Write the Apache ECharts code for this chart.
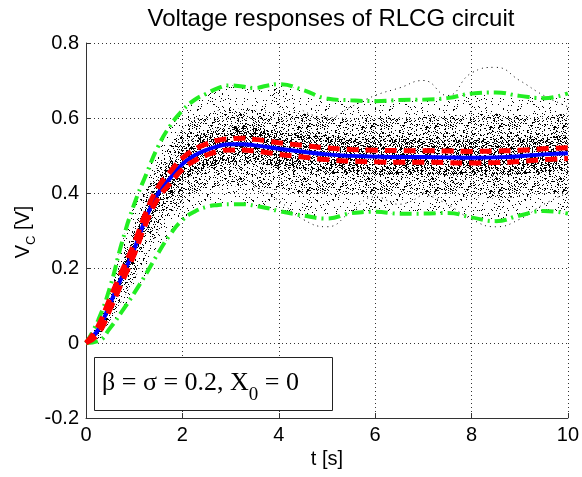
<!DOCTYPE html>
<html><head><meta charset="utf-8">
<script src="https://cdn.jsdelivr.net/npm/echarts@6/dist/echarts.min.js"></script>
<style>html,body{margin:0;padding:0;background:#fff}#c{width:582px;height:477px}</style>
</head><body><div id="c"></div>
<script>
// time grid (s)
const T      = [0, 0.25, 0.5, 0.75, 1, 1.25, 1.5, 1.75, 2, 2.25, 2.5, 2.75, 3, 3.25, 3.5, 3.75, 4, 4.5, 5, 5.5, 6, 6.5, 7, 7.5, 8, 8.5, 9, 9.5, 10];
// mean response (blue)
const meanV  = [0, 0.035, 0.105, 0.178, 0.25, 0.335, 0.4, 0.44, 0.477, 0.5, 0.515, 0.525, 0.53, 0.53, 0.527, 0.523, 0.518, 0.51, 0.503, 0.499, 0.497, 0.496, 0.496, 0.495, 0.494, 0.495, 0.498, 0.503, 0.506];
// red dashed pair
const redUp  = [0, 0.045, 0.12, 0.193, 0.266, 0.35, 0.416, 0.457, 0.493, 0.516, 0.531, 0.541, 0.545, 0.546, 0.543, 0.539, 0.534, 0.527, 0.52, 0.516, 0.514, 0.513, 0.513, 0.512, 0.511, 0.512, 0.514, 0.518, 0.521];
const redLo  = [0, 0.024, 0.09, 0.163, 0.236, 0.321, 0.386, 0.426, 0.463, 0.486, 0.501, 0.511, 0.515, 0.515, 0.512, 0.508, 0.503, 0.496, 0.489, 0.485, 0.483, 0.482, 0.482, 0.481, 0.48, 0.481, 0.484, 0.489, 0.492];
// green dash-dot bounds
const greenUp = [0, 0.06, 0.15, 0.27, 0.37, 0.45, 0.525, 0.58, 0.62, 0.648, 0.665, 0.68, 0.687, 0.684, 0.68, 0.686, 0.69, 0.675, 0.652, 0.647, 0.645, 0.648, 0.649, 0.653, 0.665, 0.668, 0.659, 0.653, 0.666];
const greenLo = [0, 0.005, 0.04, 0.085, 0.133, 0.185, 0.24, 0.29, 0.328, 0.35, 0.363, 0.368, 0.37, 0.37, 0.366, 0.36, 0.352, 0.34, 0.332, 0.346, 0.35, 0.345, 0.345, 0.347, 0.335, 0.325, 0.34, 0.352, 0.345];
// sample-path cloud: medium and dense zones
const cloudMidUp = [0, 0.045, 0.13, 0.228, 0.315, 0.405, 0.475, 0.53, 0.57, 0.595, 0.61, 0.62, 0.625, 0.625, 0.622, 0.62, 0.618, 0.612, 0.603, 0.6, 0.6, 0.602, 0.603, 0.605, 0.61, 0.612, 0.608, 0.605, 0.612];
const cloudMidLo = [0, 0.012, 0.06, 0.115, 0.17, 0.235, 0.3, 0.345, 0.38, 0.4, 0.41, 0.415, 0.418, 0.418, 0.415, 0.412, 0.408, 0.398, 0.392, 0.395, 0.398, 0.395, 0.394, 0.394, 0.39, 0.385, 0.39, 0.398, 0.4];
const cloudCoreUp = [0, 0.04, 0.115, 0.198, 0.28, 0.37, 0.44, 0.49, 0.525, 0.548, 0.563, 0.573, 0.578, 0.578, 0.575, 0.571, 0.566, 0.558, 0.551, 0.547, 0.545, 0.544, 0.544, 0.543, 0.542, 0.543, 0.546, 0.551, 0.554];
const cloudCoreLo = [0, 0.024, 0.088, 0.157, 0.22, 0.3, 0.36, 0.39, 0.43, 0.452, 0.467, 0.477, 0.482, 0.482, 0.479, 0.475, 0.47, 0.462, 0.455, 0.451, 0.449, 0.448, 0.448, 0.447, 0.446, 0.447, 0.45, 0.455, 0.458];
// a few visible outlying sample paths
const pathAT = [4.5, 5, 5.5, 6, 6.5, 7, 7.5, 8, 8.5, 9, 9.5, 10];
const pathAV = [0.62, 0.6, 0.63, 0.66, 0.68, 0.70, 0.66, 0.72, 0.735, 0.70, 0.66, 0.63];
const pathBT = [3.5, 4, 4.5, 5, 5.5, 6, 6.5, 7];
const pathBV = [0.42, 0.38, 0.33, 0.31, 0.35, 0.39, 0.37, 0.40];
const pathCT = [7, 7.5, 8, 8.5, 9, 9.5, 10];
const pathCV = [0.40, 0.37, 0.33, 0.31, 0.33, 0.37, 0.40];
// ticks
const xTicks = [0, 2, 4, 6, 8, 10];
const yTicks = [-0.2, 0, 0.2, 0.4, 0.6, 0.8];
const yTickLabels = ['-0.2', '0', '0.2', '0.4', '0.6', '0.8'];

function tile(seed, pct, size) {
  const c = document.createElement('canvas');
  c.width = c.height = size;
  const ctx = c.getContext('2d');
  ctx.fillStyle = '#000';
  for (let y = 0; y < size; y++) for (let x = 0; x < size; x++) {
    let h = Math.imul(x + seed * 131, 73856093) ^ Math.imul(y + seed * 71, 19349663);
    h = Math.imul(h ^ (h >>> 13), 1274126177); h ^= h >>> 16;
    if (((h >>> 0) % 1000) < pct * 10) ctx.fillRect(x, y, 1, 1);
  }
  return c;
}
const pat1 = tile(1, 6, 64), pat2 = tile(2, 14, 64), pat3 = tile(3, 24, 64);

function band(upper, lower, pat, z) {
  return {
    type: 'custom', silent: true, z: z, data: [0], clip: true,
    renderItem(params, api) {
      const pts = [];
      for (let i = 0; i < T.length; i++) pts.push(api.coord([T[i], upper[i]]));
      for (let i = T.length - 1; i >= 0; i--) pts.push(api.coord([T[i], lower[i]]));
      return { type: 'polygon', shape: { points: pts }, style: { fill: { image: pat, repeat: 'repeat' } } };
    }
  };
}
function pairs(ts, vs) { return ts.map((t, i) => [t, vs[i]]); }
function line(data, color, width, type, z, smooth) {
  return { type: 'line', data: data, showSymbol: false, silent: true, z: z, smooth: smooth,
    lineStyle: { color: color, width: width, type: type }, animation: false };
}

const chart = echarts.init(document.getElementById('c'));
const SANS = 'Liberation Sans, Arial, sans-serif';
const serif = '26px "Liberation Serif"';
const mctx = document.createElement('canvas').getContext('2d');
mctx.font = serif;
const w1 = mctx.measureText('β = σ = 0.2, X').width;
mctx.font = '19px "Liberation Serif"';
const w2 = mctx.measureText('0').width;

chart.setOption({
  animation: false,
  title: { text: 'Voltage responses of RLCG circuit', left: 326, top: 2, textAlign: 'center',
    textStyle: { fontSize: 24, fontWeight: 'normal', color: '#000', fontFamily: SANS } },
  grid: { left: 86, right: 11, top: 43, bottom: 59 },
  xAxis: {
    type: 'value', min: 0, max: 10, interval: 2,
    name: 't [s]', nameLocation: 'middle', nameGap: 27,
    nameTextStyle: { fontSize: 20, color: '#000', fontFamily: SANS },
    axisLine: { onZero: false, lineStyle: { color: '#333', width: 1 } },
    axisTick: { inside: true, length: 5, lineStyle: { color: '#333' } },
    axisLabel: { fontSize: 20, color: '#000', fontFamily: SANS, margin: 7,
      formatter: v => xTicks.includes(v) ? String(v) : '' },
    splitLine: { show: true, lineStyle: { color: '#333', type: [1, 3], width: 1 } }
  },
  yAxis: {
    type: 'value', min: -0.2, max: 0.8, interval: 0.2,
    axisLine: { show: true, onZero: false, lineStyle: { color: '#333', width: 1 } },
    axisTick: { show: true, inside: true, length: 5, lineStyle: { color: '#333' } },
    axisLabel: { fontSize: 20, color: '#000', fontFamily: SANS, margin: 7,
      formatter: v => { const i = yTicks.findIndex(t => Math.abs(t - v) < 1e-6); return i >= 0 ? yTickLabels[i] : ''; } },
    splitLine: { show: true, lineStyle: { color: '#333', type: [1, 3], width: 1 } }
  },
  series: [
    band(greenUp, greenLo, pat1, 1),
    band(cloudMidUp, cloudMidLo, pat2, 2),
    band(cloudCoreUp, cloudCoreLo, pat3, 3),
    line(pairs(pathAT, pathAV), '#000', 1, [1, 4], 4, true),
    line(pairs(pathBT, pathBV), '#000', 1, [1, 4], 4, true),
    line(pairs(pathCT, pathCV), '#000', 1, [1, 4], 4, true),
    line(pairs(T, greenUp), '#22ee22', 4, [12, 5, 2, 5], 5, true),
    line(pairs(T, greenLo), '#22ee22', 4, [12, 5, 2, 5], 5, true),
    line(pairs(T, meanV), '#0000ff', 4, 'solid', 6, true),
    line(pairs(T, redUp), '#ff0000', 5, [12, 7], 7, true),
    line(pairs(T, redLo), '#ff0000', 5, [12, 7], 7, true)
  ],
  graphic: [
    { type: 'text', z: 101, x: 23, y: 232, rotation: Math.PI / 2,
      style: { text: '{v|V}{s|C}{v| [V]}', align: 'center', verticalAlign: 'middle',
        rich: { v: { fontSize: 20, fill: '#000', fontFamily: SANS, lineHeight: 30 },
                s: { fontSize: 13, fill: '#000', fontFamily: SANS, lineHeight: 30, verticalAlign: 'bottom', padding: [10, 0, 0, 0] } } } },
    { type: 'rect', z: 100, shape: { x: 94.5, y: 357.5, width: 238, height: 53 },
      style: { fill: '#fff', stroke: '#222', lineWidth: 1 } },
    { type: 'text', z: 101, x: 102, y: 383,
      style: { text: 'β = σ = 0.2, X', font: serif, fill: '#000', verticalAlign: 'middle' } },
    { type: 'text', z: 101, x: 102 + w1, y: 395,
      style: { text: '0', font: '19px "Liberation Serif"', fill: '#000', verticalAlign: 'middle' } },
    { type: 'text', z: 101, x: 102 + w1 + w2, y: 383,
      style: { text: ' = 0', font: serif, fill: '#000', verticalAlign: 'middle' } }
  ]
});
</script></body></html>
